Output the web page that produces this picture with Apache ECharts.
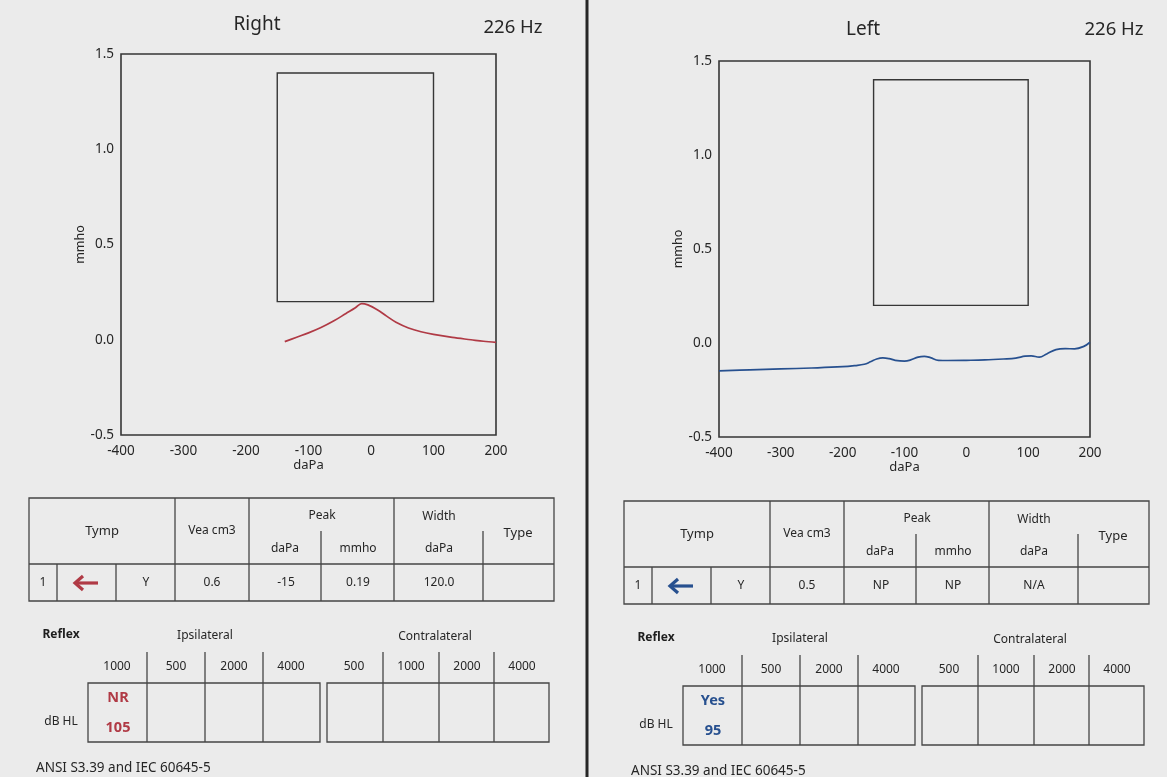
<!DOCTYPE html>
<html>
<head>
<meta charset="utf-8">
<script src="https://cdn.jsdelivr.net/npm/echarts@6/dist/echarts.min.js"></script>
<style>
  html, body { margin: 0; padding: 0; background: #ebebeb; }
  #chart { width: 1167px; height: 777px; }
</style>
</head>
<body>
<div id="chart"></div>
<script>
// ---- Tympanogram data (pressure in daPa, admittance in mmho) ----
const rightPressure   = [-138, -120, -100, -80, -60, -40, -25, -15, -5, 10, 25, 40, 60, 80, 100, 130, 160, 180, 200];
const rightAdmittance = [-0.01, 0.012, 0.036, 0.064, 0.098, 0.138, 0.168, 0.19, 0.183, 0.158, 0.124, 0.092, 0.062, 0.042, 0.028, 0.012, 0.0, -0.008, -0.014];

const leftPressure   = [-400, -350, -300, -250, -200, -180, -165, -155, -145, -135, -125, -115, -100, -90, -78, -68, -58, -45, -30, 0, 30, 60, 80, 95, 105, 118, 130, 145, 160, 175, 190, 200];
const leftAdmittance = [-0.148, -0.143, -0.138, -0.133, -0.126, -0.12, -0.113, -0.1, -0.085, -0.079, -0.083, -0.092, -0.096, -0.09, -0.075, -0.071, -0.078, -0.092, -0.093, -0.092, -0.09, -0.085, -0.08, -0.07, -0.068, -0.075, -0.058, -0.035, -0.03, -0.031, -0.018, 0.004];

// Normative region drawn inside each tympanogram
const normPressure   = [-150, 100];
const normAdmittance = [0.2, 1.4];

// Axis ranges
const pressureRange   = [-400, 200];
const admittanceRange = [-0.5, 1.5];

// ---- Table contents ----
const tympHeader    = ['Tymp', 'Vea cm3', 'Peak', 'daPa', 'mmho', 'Width', 'daPa', 'Type'];
const rightTympRow  = ['1', 'Y', '0.6', '-15', '0.19', '120.0', ''];
const leftTympRow   = ['1', 'Y', '0.5', 'NP', 'NP', 'N/A', ''];
const ipsiFreqs     = ['1000', '500', '2000', '4000'];
const contraFreqs   = ['500', '1000', '2000', '4000'];
const rightReflex   = ['NR', '105'];
const leftReflex    = ['Yes', '95'];
const standardNote  = 'ANSI S3.39 and IEC 60645-5';

const RED = '#b03a45';
const BLUE = '#27508f';
const INK = '#363636';
const TXT = '#262626';
const FONT = '"Noto Sans", "Open Sans", sans-serif';

const chart = echarts.init(document.getElementById('chart'));

// ---- Chart grids ----
const grids = [
  { left: 121, top: 54, width: 375, height: 381 },
  { left: 719, top: 61, width: 371, height: 376 }
];

function xAxisFor(i) {
  return {
    type: 'value', gridIndex: i,
    min: pressureRange[0], max: pressureRange[1], interval: 100,
    axisLine: { show: false }, axisTick: { show: false }, splitLine: { show: false },
    axisLabel: { color: TXT, fontSize: 13.5, fontFamily: FONT, margin: 9 },
    name: 'daPa', nameLocation: 'middle', nameGap: 21,
    nameTextStyle: { color: TXT, fontSize: 13, fontFamily: FONT }
  };
}
function yAxisFor(i) {
  return {
    type: 'value', gridIndex: i,
    min: admittanceRange[0], max: admittanceRange[1], interval: 0.5,
    axisLine: { show: false }, axisTick: { show: false }, splitLine: { show: false },
    axisLabel: { color: TXT, fontSize: 13.5, fontFamily: FONT, margin: 7,
                 formatter: v => v.toFixed(1) },
    name: 'mmho', nameLocation: 'middle', nameGap: 32, nameRotate: 90,
    nameTextStyle: { color: TXT, fontSize: 12.5, fontFamily: FONT }
  };
}
function normBox() {
  return {
    silent: true,
    itemStyle: { color: 'rgba(0,0,0,0)', borderColor: INK, borderWidth: 1.4 },
    data: [[
      { coord: [normPressure[0], normAdmittance[1]] },
      { coord: [normPressure[1], normAdmittance[0]] }
    ]]
  };
}
function pairs(xs, ys) { return xs.map((x, i) => [x, ys[i]]); }

// ---- Graphic helpers for headings and tables ----
const graphics = [];
function line(x1, y1, x2, y2, w) {
  graphics.push({ type: 'line', silent: true,
    shape: { x1, y1, x2, y2 }, style: { stroke: '#454545', lineWidth: w || 1.3 } });
}
function rect(x, y, w, h) {
  graphics.push({ type: 'rect', silent: true,
    shape: { x, y, width: w, height: h }, style: { fill: 'none', stroke: '#454545', lineWidth: 1.3 } });
}
function text(x, y, str, opt) {
  opt = opt || {};
  graphics.push({ type: 'text', silent: true, x, y,
    style: { text: str, fill: opt.color || TXT, fontSize: opt.size || 12,
             fontWeight: opt.weight || 'normal', fontFamily: FONT,
             textAlign: opt.align || 'center', textVerticalAlign: 'middle' } });
}
function arrow(cx, cy, color) {
  // left-pointing arrow marking the probe ear
  graphics.push({ type: 'polyline', silent: true,
    shape: { points: [[cx + 12, cy], [cx - 11, cy]] },
    style: { stroke: color, lineWidth: 3.2, fill: 'none' } });
  graphics.push({ type: 'polyline', silent: true,
    shape: { points: [[cx - 3, cy - 7], [cx - 11, cy], [cx - 3, cy + 7]] },
    style: { stroke: color, lineWidth: 3.2, fill: 'none', lineJoin: 'miter' } });
}

function panel(dx, dy, row, reflex, color) {
  // tympanometry summary table
  const L = 29 + dx, R = 554 + dx, T = 498 + dy, H = 564 + dy, B = 601 + dy, M = 531 + dy;
  const c = [57, 116, 175, 249, 321, 394, 483].map(v => v + dx);
  rect(L, T, R - L, B - T);
  line(L, H, R, H);
  [c[2], c[3], c[5]].forEach(x => line(x, T, x, B));
  line(c[0], H, c[0], B);
  line(c[1], H, c[1], B);
  line(c[4], M, c[4], B);
  line(c[6], M, c[6], B);
  text(102 + dx, 531 + dy, tympHeader[0], { size: 13 });
  text(212 + dx, 531 + dy, tympHeader[1]);
  text(322 + dx, 516 + dy, tympHeader[2]);
  text(285 + dx, 549 + dy, tympHeader[3]);
  text(358 + dx, 549 + dy, tympHeader[4]);
  text(439 + dx, 517 + dy, tympHeader[5]);
  text(439 + dx, 549 + dy, tympHeader[6]);
  text(518 + dx, 533 + dy, tympHeader[7], { size: 13 });
  const ry = 583 + dy;
  text(43 + dx, ry, row[0]);
  arrow(86 + dx, ry, color);
  text(146 + dx, ry, row[1]);
  text(212 + dx, ry, row[2]);
  text(286 + dx, ry, row[3]);
  text(358 + dx, ry, row[4]);
  text(439 + dx, ry, row[5]);
  text(518 + dx, ry, row[6]);

  // acoustic reflex table
  text(61 + dx, 635 + dy, 'Reflex', { weight: 'bold', size: 12, color: '#1e1e1e' });
  text(205 + dx, 636 + dy, 'Ipsilateral');
  text(435 + dx, 637 + dy, 'Contralateral');
  const fy = 667 + dy, hTop = 652 + dy, bTop = 683 + dy, bBot = 742 + dy;
  [117, 176, 234, 291].forEach((x, i) => text(x + dx, fy, ipsiFreqs[i]));
  [354, 411, 467, 522].forEach((x, i) => text(x + dx, fy, contraFreqs[i]));
  [147, 205, 263, 383, 439, 494].forEach(x => line(x + dx, hTop, x + dx, bBot));
  rect(88 + dx, bTop, 232, bBot - bTop);
  rect(327 + dx, bTop, 222, bBot - bTop);
  text(61 + dx, 722 + dy, 'dB HL');
  text(118 + dx, 698 + dy, reflex[0], { weight: 'bold', size: 14.5, color });
  text(118 + dx, 728 + dy, reflex[1], { weight: 'bold', size: 14.5, color });
  text(36 + dx, 768 + dy, standardNote, { align: 'left', size: 13.5 });
}

// headings
text(257, 25, 'Right', { size: 19 });
text(513, 28, '226 Hz', { size: 18.5 });
text(863, 30, 'Left', { size: 19 });
text(1114, 30, '226 Hz', { size: 18.5 });
// page divider
graphics.push({ type: 'rect', silent: true, shape: { x: 585.5, y: 0, width: 3, height: 777 },
                style: { fill: '#262626' } });

panel(0, 0, rightTympRow, rightReflex, RED);
panel(595, 3, leftTympRow, leftReflex, BLUE);

chart.setOption({
  backgroundColor: '#ebebeb',
  animation: false,
  grid: grids.map(g => Object.assign({ show: true, borderColor: INK, borderWidth: 1.6,
                                       backgroundColor: 'rgba(0,0,0,0)' }, g)),
  xAxis: [xAxisFor(0), xAxisFor(1)],
  yAxis: [yAxisFor(0), yAxisFor(1)],
  series: [
    { type: 'line', name: 'Right', xAxisIndex: 0, yAxisIndex: 0, smooth: 0.35,
      showSymbol: false, lineStyle: { color: RED, width: 1.7 },
      data: pairs(rightPressure, rightAdmittance), markArea: normBox() },
    { type: 'line', name: 'Left', xAxisIndex: 1, yAxisIndex: 1, smooth: 0.4,
      showSymbol: false, lineStyle: { color: BLUE, width: 1.7 },
      data: pairs(leftPressure, leftAdmittance), markArea: normBox() }
  ],
  graphic: graphics
});
</script>
</body>
</html>
